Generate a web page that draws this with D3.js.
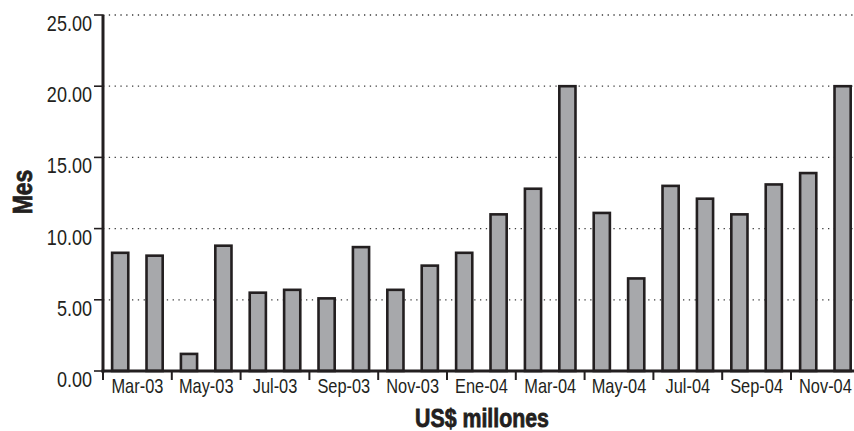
<!DOCTYPE html>
<html>
<head>
<meta charset="utf-8">
<script src="https://cdn.jsdelivr.net/npm/d3@7"></script>
<style>
  body { margin: 0; background: #fff; overflow: hidden; }
  svg { display: block; }
  text { font-family: "Liberation Sans", Arial, sans-serif; fill: #231f20; }
</style>
</head>
<body>
<div id="chart"></div>
<script>
// meses (uno por barra)
const months = [
  "Mar-03", "Abr-03", "May-03", "Jun-03", "Jul-03", "Ago-03", "Sep-03", "Oct-03",
  "Nov-03", "Dic-03", "Ene-04", "Feb-04", "Mar-04", "Abr-04", "May-04", "Jun-04",
  "Jul-04", "Ago-04", "Sep-04", "Oct-04", "Nov-04", "Dic-04"
];
// US$ millones
const values = [
  8.3, 8.1, 1.2, 8.8, 5.5, 5.7, 5.1, 8.7, 5.7, 7.4, 8.3,
  11.0, 12.8, 20.0, 11.1, 6.5, 13.0, 12.1, 11.0, 13.1, 13.9, 20.0
];
const yTicks = [0, 5, 10, 15, 20, 25];

const width = 854, height = 431;
const plotLeft = 103, plotTop = 15, plotBottom = 371;
const step = 34.4;
const plotRight = plotLeft + months.length * step; // el gráfico se corta a la derecha
const narrow = 0.82; // letra condensada: escalamos en x

const svg = d3.select("#chart").append("svg")
  .attr("width", width)
  .attr("height", height);

const x = d3.scaleBand()
  .domain(months)
  .range([plotLeft, plotRight])
  .paddingInner(0.53)
  .paddingOuter(0.265);

// etiquetas cada dos meses
const labels = months.filter((d, i) => i % 2 === 0);
const xPair = d3.scaleBand()
  .domain(labels)
  .range([plotLeft, plotRight]);

const y = d3.scaleLinear()
  .domain([0, 25])
  .range([plotBottom, plotTop]);

// líneas de grilla punteadas
svg.append("g")
  .selectAll("line")
  .data(yTicks.filter((d) => d > 0))
  .enter()
  .append("line")
  .attr("x1", plotLeft)
  .attr("x2", width)
  .attr("y1", (d) => y(d))
  .attr("y2", (d) => y(d))
  .attr("stroke", "#3a3a3a")
  .attr("stroke-width", 1.3)
  .attr("stroke-dasharray", "1.3,4.5");

// barras
svg.append("g")
  .selectAll("rect")
  .data(values)
  .enter()
  .append("rect")
  .attr("x", (d, i) => x(months[i]))
  .attr("width", x.bandwidth())
  .attr("y", (d) => y(d))
  .attr("height", (d) => y(0) - y(d))
  .attr("fill", "#a7a8ab")
  .attr("stroke", "#231f20")
  .attr("stroke-width", 2.6);

// eje y
svg.append("line")
  .attr("x1", plotLeft).attr("x2", plotLeft)
  .attr("y1", plotTop).attr("y2", plotBottom + 1.5)
  .attr("stroke", "#231f20")
  .attr("stroke-width", 3);

const yt = svg.append("g")
  .selectAll("g")
  .data(yTicks)
  .enter()
  .append("g")
  .attr("transform", (d) => `translate(0,${y(d)})`);

yt.append("line")
  .attr("x1", plotLeft - 9)
  .attr("x2", plotLeft)
  .attr("stroke", "#231f20")
  .attr("stroke-width", 1.6);

yt.append("text")
  .attr("transform", `translate(${plotLeft - 11},16) scale(${narrow},1)`)
  .attr("text-anchor", "end")
  .attr("font-size", 22)
  .text((d) => d.toFixed(2));

// eje x
svg.append("line")
  .attr("x1", plotLeft - 1.5).attr("x2", width)
  .attr("y1", plotBottom).attr("y2", plotBottom)
  .attr("stroke", "#231f20")
  .attr("stroke-width", 3);

svg.append("g")
  .selectAll("line")
  .data(labels)
  .enter()
  .append("line")
  .attr("x1", (d) => xPair(d))
  .attr("x2", (d) => xPair(d))
  .attr("y1", plotBottom)
  .attr("y2", plotBottom + 9)
  .attr("stroke", "#231f20")
  .attr("stroke-width", 2);

svg.append("g")
  .selectAll("text")
  .data(labels)
  .enter()
  .append("text")
  .attr("transform", (d) => `translate(${xPair(d) + xPair.bandwidth() / 2},393) scale(${narrow},1)`)
  .attr("text-anchor", "middle")
  .attr("font-size", 20)
  .text((d) => d);

// títulos
svg.append("text")
  .attr("transform", `translate(32,192) rotate(-90) scale(${narrow},1)`)
  .attr("text-anchor", "middle")
  .attr("font-size", 28)
  .attr("font-weight", "bold")
  .attr("stroke", "#231f20")
  .attr("stroke-width", 0.8)
  .text("Mes");

svg.append("text")
  .attr("transform", `translate(482,427) scale(${narrow},1)`)
  .attr("text-anchor", "middle")
  .attr("font-size", 26)
  .attr("font-weight", "bold")
  .attr("stroke", "#231f20")
  .attr("stroke-width", 0.8)
  .text("US$ millones");
</script>
</body>
</html>
